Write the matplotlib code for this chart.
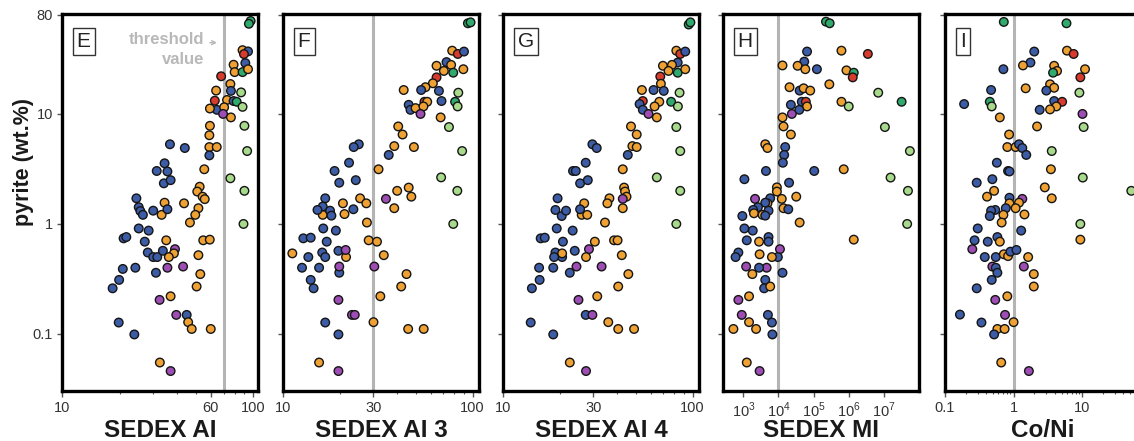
import matplotlib
matplotlib.use("Agg")
import matplotlib.pyplot as plt
from matplotlib.ticker import LogLocator, FixedLocator, NullFormatter, FixedFormatter
import numpy as np

plt.rcParams['font.family'] = ['Liberation Sans', 'DejaVu Sans']
plt.rcParams['mathtext.fontset'] = 'custom'
plt.rcParams['mathtext.rm'] = 'Liberation Sans'

# group colours
COLORS = {
    'b': '#3D5CA6',
    'o': '#EFA233',
    'p': '#9D4DB3',
    'r': '#D63B2E',
    'g': '#2FAA6C',
    'l': '#A8DA8C',
}

# ---- panel E: SEDEX AI ----
E_x = [97, 95, 88, 94, 89.5, 91, 79, 80, 88, 94, 68, 64, 76, 76.5, 86.5, 73, 63, 64.6, 59.4,
       70.5, 69.6, 79, 82, 88, 76.5, 59.4, 90,
       59, 59, 64.5, 59, 93, 76, 90, 89,
       36.7, 43.9, 34.4, 31.3, 35.6, 34.1, 37,
       55.5, 52.5, 51, 54.4, 55.8, 43.5, 51.7, 49.8, 46.7,
       24.5, 25.2, 25.7, 26.5, 30, 33.2, 34.4, 35.6,
       25.2, 28.4, 21, 21.7, 27.1, 28.1, 30, 31.5, 33.7,
       35.1, 54.8, 59.3, 39, 38.5, 36.2, 51.7,
       24.2, 20.8, 19.9, 18.4, 31, 35.6, 43, 52.9, 50.6, 37, 32.4, 39.6, 44.9, 45.7, 47.7, 60,
       19.8, 23.9, 32.5, 37]
E_y = [70, 66, 38, 37, 35, 29, 28, 24, 24, 25.5, 22, 16.3, 18.7, 16.2, 15.7, 13.4, 13.2, 10.9, 11.2,
       11.5, 10, 13.1, 12.9, 11.6, 9.3, 7.8, 7.8,
       6.4, 5.0, 5.0, 4.2, 4.6, 2.6, 2.0, 1.0,
       5.3, 4.9, 3.56, 3.03, 3.0, 2.34, 2.5,
       3.14, 2.18, 1.97, 1.77, 1.68, 1.54, 1.39, 1.21, 1.03,
       1.71, 1.42, 1.31, 1.21, 1.32, 1.21, 1.56, 1.36,
       0.91, 0.87, 0.74, 0.76, 0.69, 0.55, 0.5, 0.5, 0.57,
       0.71, 0.71, 0.72, 0.59, 0.54, 0.50, 0.52,
       0.40, 0.39, 0.31, 0.26, 0.36, 0.40, 0.41, 0.35, 0.27, 0.22, 0.204, 0.149, 0.149, 0.128, 0.111, 0.111,
       0.127, 0.099, 0.055, 0.046]
E_c = ['g', 'g', 'o', 'b', 'r', 'b', 'o', 'o', 'g', 'o', 'r', 'o', 'o', 'b', 'l', 'o', 'r', 'b', 'o',
       'o', 'p', 'b', 'g', 'l', 'o', 'o', 'l',
       'o', 'o', 'o', 'b', 'l', 'l', 'l', 'l',
       'b', 'b', 'b', 'b', 'b', 'b', 'b',
       'o', 'o', 'o', 'o', 'o', 'o', 'o', 'o', 'o',
       'b', 'b', 'b', 'b', 'b', 'o', 'o', 'b',
       'b', 'b', 'b', 'b', 'b', 'b', 'b', 'b', 'b',
       'o', 'o', 'o', 'p', 'o', 'o', 'o',
       'b', 'b', 'b', 'b', 'b', 'p', 'p', 'o', 'o', 'o', 'p', 'p', 'b', 'o', 'o', 'o',
       'b', 'b', 'o', 'p']

# ---- panel F: SEDEX AI 3 ----
F_x = [94.4, 97.5, 78, 83.5, 90, 72.8, 77, 64.5, 70.5, 79, 89.3, 64.5, 61.7, 56.4, 53.5, 43.3, 66.4,
       84, 68.5, 55.7, 57.6, 80.8, 83.3, 46, 47, 50, 55, 53.1, 67.8, 75,
       40.5, 42.7, 38.6, 49, 36.1, 88, 31.9, 68.2, 83, 79,
       40, 46, 47.5, 34.9, 38.6, 27.7, 25.5, 27.5, 20.7, 21.1, 16.2,
       25.1, 23.6, 22.3, 18.7, 19.8, 24.2, 16.7, 16.2, 15.2, 17.7, 18, 23.5,
       16.3, 19, 12.8, 14, 17, 19.6, 16.1, 16.7, 13.6, 12.6, 15.5, 14, 14.5, 19.8, 16.7, 19.6,
       11.2, 21.5, 21.4, 28.3, 31.3, 34, 19.8, 30.3, 44.8, 42, 32.6, 19.6, 23.1, 23.9,
       30, 45.7, 55.2, 15.5, 19.6]
F_y = [66.7, 68, 37.6, 35.1, 36.9, 29.6, 27.9, 27.4, 24.6, 23.7, 25.5, 21.5, 19, 17.5, 16.5, 16.5, 16.2,
       15.6, 13.1, 12.9, 12.9, 12.9, 11.7, 12.1, 10.9, 11.3, 11.7, 10, 9.3, 7.6,
       7.7, 6.5, 5.1, 5.0, 4.24, 4.6, 3.14, 2.65, 2.0, 1.0,
       2.0, 2.14, 1.77, 1.69, 1.39, 1.03, 1.71, 1.54, 1.54, 1.23, 1.21,
       5.3, 5.0, 3.6, 3.03, 2.37, 2.5, 1.71, 1.44, 1.34, 1.32, 1.19, 1.36,
       0.91, 0.87, 0.74, 0.75, 0.69, 0.57, 0.55, 0.50, 0.50, 0.40, 0.40, 0.31, 0.26, 0.36, 0.127, 0.099,
       0.54, 0.50, 0.58, 0.71, 0.69, 0.52, 0.41, 0.41, 0.35, 0.27, 0.22, 0.204, 0.149, 0.149,
       0.128, 0.111, 0.111, 0.055, 0.046]
F_c = ['g', 'g', 'o', 'r', 'b', 'b', 'o', 'o', 'o', 'g', 'o', 'r', 'o', 'o', 'b', 'o', 'b',
       'l', 'b', 'r', 'o', 'g', 'l', 'b', 'b', 'o', 'o', 'p', 'o', 'l',
       'o', 'o', 'o', 'o', 'b', 'l', 'o', 'l', 'l', 'l',
       'o', 'o', 'o', 'p', 'o', 'o', 'o', 'o', 'o', 'o', 'o',
       'b', 'b', 'b', 'b', 'b', 'b', 'b', 'b', 'b', 'b', 'b', 'b',
       'b', 'b', 'b', 'b', 'b', 'b', 'b', 'b', 'b', 'b', 'b', 'b', 'b', 'b', 'b', 'b',
       'o', 'o', 'p', 'o', 'o', 'o', 'p', 'p', 'o', 'o', 'o', 'p', 'p', 'p',
       'o', 'o', 'o', 'o', 'p']

# ---- panel G: SEDEX AI 4 ----
G_x = [95.3, 97.3, 82, 86, 91.4, 83.4, 77.8, 69.7, 74.6, 83.4, 91.4, 67.5, 68, 54, 62.2, 70.4, 85.3,
       54.6, 66.7, 63, 77, 83.6, 52.5, 54.6, 58.5, 64.7, 82,
       47.3, 50.7, 48.1, 50.7, 45.5, 86, 42.8, 64.7, 86, 82,
       29.6, 31.2, 27.3, 23.4, 24.2, 25.5, 28,
       43.5, 44, 44.8, 42.8, 36.4, 35.5, 42.8, 26.8, 26, 27.8, 34.5,
       19.4, 18.9, 20.4, 21.5, 25.5, 19.2, 23.3, 15.8, 16.6, 20.7, 23.9, 18.9, 20.5, 20.5, 18.6,
       30.5, 38.5, 40.2, 28.4, 27.4, 42.3, 24.4, 33.1, 15.5, 18.4, 22.5, 15.6, 14.2,
       45.8, 40.5, 31.4, 25, 27.3, 29.6, 35.9, 40.5, 49.1, 14, 18.4, 22.5, 27.4]
G_y = [65, 68, 37.6, 35.1, 36.9, 29.3, 27.9, 27.4, 24.6, 23.7, 25.5, 21.9, 18.8, 16.5, 16.5, 16.2, 15.6,
       13.1, 12.9, 11.7, 12.9, 11.7, 12.3, 10.9, 10, 9.3, 7.6,
       7.7, 6.5, 5.1, 5.0, 4.24, 4.6, 3.14, 2.65, 2.0, 1.0,
       5.3, 4.9, 3.6, 3.03, 3.03, 2.34, 2.5,
       2.14, 1.97, 1.77, 1.69, 1.71, 1.54, 1.39, 1.54, 1.21, 1.21, 1.03,
       1.71, 1.34, 1.18, 1.32, 1.36, 0.91, 0.87, 0.74, 0.75, 0.69, 0.57, 0.55, 0.50, 0.54, 0.50,
       0.69, 0.71, 0.71, 0.59, 0.50, 0.52, 0.41, 0.41, 0.40, 0.40, 0.36, 0.31, 0.26,
       0.35, 0.27, 0.22, 0.204, 0.149, 0.149, 0.128, 0.111, 0.111, 0.127, 0.099, 0.055, 0.046]
G_c = ['g', 'g', 'o', 'r', 'b', 'b', 'o', 'o', 'o', 'g', 'o', 'r', 'o', 'o', 'b', 'b', 'l',
       'r', 'o', 'o', 'g', 'l', 'b', 'b', 'p', 'o', 'l',
       'o', 'o', 'o', 'o', 'b', 'l', 'o', 'l', 'l', 'l',
       'b', 'b', 'b', 'b', 'b', 'b', 'b',
       'o', 'o', 'o', 'p', 'o', 'o', 'o', 'o', 'o', 'o', 'o',
       'b', 'b', 'b', 'b', 'b', 'b', 'b', 'b', 'b', 'b', 'b', 'b', 'b', 'o', 'b',
       'o', 'o', 'o', 'p', 'o', 'o', 'p', 'p', 'b', 'b', 'b', 'b', 'b',
       'o', 'o', 'o', 'p', 'b', 'p', 'o', 'o', 'o', 'b', 'b', 'o', 'p']

# ---- panel H: SEDEX MI ----
H_x = [2.25e5, 2.86e5, 6.5e4, 6.2e5, 3.5e6, 5.4e4, 1.3e4, 3.5e4, 5.8e4, 1.24e5, 8.6e5, 1.39e6, 1.3e6,
       2.8e5, 2.06e4, 4e4, 5.2e4, 8e4, 6.9e6, 3.2e7, 6.2e5, 1e6, 2.25e4, 4.6e4, 6e4, 6.5e4, 3.9e4,
       2.4e4, 1.3e4, 1.39e4, 2.25e4, 1.07e7, 5.5e7,
       4.2e3, 4.85e3, 1.55e4, 1.45e4, 1.33e4, 4.4e3, 1.04e5, 7.2e5, 1.55e7, 4.85e7, 4.6e7,
       1.07e3, 2e4, 9e3, 9e3, 1.24e4, 3.2e4, 1.39e4, 1.9e4, 2.15e3, 5.8e3, 4.85e3, 4.2e3,
       2.6e3, 1.9e3, 5.2e3, 2e3, 3.5e3, 4.2e3, 4e4, 935,
       1.07e3, 1.85e3, 1.25e3, 2.8e3, 5.2e3, 5.2e3, 1.39e6, 1.1e4, 9.6e3, 6.5e3, 720, 600, 2.9e3,
       1.2e3, 4.6e3, 2.8e3, 1.8e3, 1.3e4, 4.2e3, 3.9e3, 5.8e3, 1.45e3, 720, 900, 5e3, 1.45e3, 6.5e3,
       520, 2.3e3, 6.7e3, 1.25e3, 2.9e3]
H_y = [69, 66.7, 36.9, 37.6, 35.1, 29.9, 27.6, 27.4, 25.5, 25.5, 24.9, 23.7, 21.5,
       18.6, 17.5, 16.3, 17.1, 16.3, 15.6, 12.9, 12.9, 11.7, 12.1, 12.9, 12.9, 11.7, 10.9,
       10, 9.3, 7.7, 6.5, 7.6, 4.6,
       5.3, 4.9, 5.0, 4.24, 3.6, 3.03, 3.03, 3.14, 2.64, 2.0, 1.0,
       2.55, 2.37, 2.15, 1.97, 1.69, 1.77, 1.39, 1.36, 1.69, 1.71, 1.54, 1.56,
       1.42, 1.34, 1.32, 1.25, 1.21, 1.19, 1.03, 1.18,
       0.91, 0.87, 0.71, 0.69, 0.76, 0.69, 0.72, 0.59, 0.50, 0.50, 0.55, 0.50, 0.53,
       0.41, 0.40, 0.40, 0.35, 0.36, 0.31, 0.26, 0.27, 0.22, 0.204, 0.149, 0.149, 0.128, 0.127,
       0.111, 0.111, 0.099, 0.055, 0.046]
H_c = ['g', 'g', 'b', 'o', 'r', 'b', 'o', 'o', 'o', 'b', 'o', 'g', 'r',
       'o', 'o', 'b', 'o', 'o', 'l', 'g', 'o', 'l', 'b', 'b', 'r', 'o', 'b',
       'p', 'o', 'o', 'o', 'l', 'l',
       'o', 'o', 'b', 'b', 'b', 'b', 'b', 'o', 'l', 'l', 'l',
       'b', 'b', 'o', 'o', 'o', 'o', 'o', 'b', 'p', 'b', 'o', 'b',
       'b', 'b', 'b', 'o', 'o', 'b', 'o', 'b',
       'b', 'b', 'b', 'o', 'b', 'b', 'o', 'p', 'b', 'o', 'b', 'b', 'o',
       'p', 'p', 'b', 'o', 'b', 'b', 'b', 'o', 'o', 'p', 'p', 'b', 'o', 'b',
       'o', 'o', 'b', 'o', 'p']

# ---- panel I: Co/Ni ----
I_x = [0.72, 5.9, 2.0, 6.0, 7.5, 1.76, 1.37, 0.71, 3.9, 4.3, 3.76, 11, 9.4, 3.4, 1.5, 3.9, 0.47, 3.0,
       9.1, 0.19, 0.45, 0.48, 3.9, 5.1, 4.2, 3.4, 2.4, 10.1, 0.63, 2.2, 10.5,
       0.86, 0.81, 1.07, 1.2, 1.34, 1.53, 3.6, 0.57, 0.83, 0.87, 3.5, 10.2, 0.29, 0.49, 2.85, 3.6, 52,
       0.52, 0.41, 0.87, 1.34, 0.87, 1.2, 1.07, 1.44, 0.77, 0.54, 0.47, 0.45, 0.71, 0.67, 9.4,
       0.30, 1.29, 0.27, 0.42, 0.58, 0.63, 9.4, 0.25, 0.38, 0.55, 0.72, 0.83, 0.9, 1.1, 1.63,
       0.49, 0.55, 1.41, 0.58, 0.48, 1.97, 1.97, 0.29, 0.81, 0.54, 0.165, 0.75, 0.34, 1.0,
       0.58, 0.74, 0.52, 0.66, 1.67]
I_y = [68.6, 66.7, 36.9, 37.6, 35.1, 29.3, 27.6, 25.5, 27.4, 24.6, 23.7, 25.5, 21.5, 18.6, 17.1, 17.3, 16.5, 16.3,
       15.6, 12.3, 12.9, 11.7, 13.1, 12.9, 11.7, 11.0, 10.9, 10, 9.3, 7.7, 7.6,
       6.5, 5.0, 5.0, 5.3, 4.9, 4.24, 4.6, 3.6, 3.03, 3.0, 3.14, 2.64, 2.37, 2.55, 2.15, 1.71, 2.0,
       2.0, 1.77, 1.73, 1.69, 1.54, 1.56, 1.39, 1.22, 1.39, 1.34, 1.32, 1.18, 1.21, 1.03, 1.0,
       0.91, 0.87, 0.71, 0.69, 0.76, 0.69, 0.72, 0.59, 0.50, 0.50, 0.53, 0.51, 0.56, 0.58, 0.50,
       0.41, 0.40, 0.41, 0.36, 0.31, 0.35, 0.27, 0.26, 0.22, 0.204, 0.15, 0.149, 0.127, 0.128,
       0.111, 0.111, 0.099, 0.055, 0.046]
I_c = ['g', 'g', 'b', 'o', 'r', 'b', 'o', 'b', 'o', 'o', 'g', 'o', 'r', 'o', 'o', 'o', 'b', 'b',
       'l', 'b', 'g', 'l', 'b', 'r', 'o', 'o', 'b', 'p', 'o', 'o', 'l',
       'o', 'o', 'o', 'b', 'b', 'b', 'l', 'b', 'b', 'b', 'o', 'l', 'b', 'b', 'o', 'o', 'l',
       'o', 'o', 'b', 'p', 'o', 'o', 'o', 'o', 'b', 'b', 'b', 'b', 'o', 'o', 'l',
       'b', 'b', 'b', 'b', 'b', 'o', 'o', 'p', 'b', 'b', 'o', 'o', 'b', 'b', 'o',
       'p', 'b', 'p', 'b', 'b', 'o', 'o', 'b', 'o', 'p', 'b', 'p', 'b', 'o',
       'o', 'o', 'b', 'o', 'p']

panels = [
    dict(letter='E', label='SEDEX AI', x=E_x, y=E_y, c=E_c, xlim=(10, 106), thr=70,
         ticks=[10, 60, 100], ticklabels=['10', '60', '100']),
    dict(letter='F', label='SEDEX AI 3', x=F_x, y=F_y, c=F_c, xlim=(10, 108), thr=30,
         ticks=[10, 30, 100], ticklabels=['10', '30', '100']),
    dict(letter='G', label='SEDEX AI 4', x=G_x, y=G_y, c=G_c, xlim=(10, 108), thr=None,
         ticks=[10, 30, 100], ticklabels=['10', '30', '100']),
    dict(letter='H', label='SEDEX MI', x=H_x, y=H_y, c=H_c, xlim=(10**2.42, 1e8), thr=1e4,
         ticks=[1e3, 1e4, 1e5, 1e6, 1e7],
         ticklabels=[r'$10^3$', r'$10^4$', r'$10^5$', r'$10^6$', r'$10^7$']),
    dict(letter='I', label='Co/Ni', x=I_x, y=I_y, c=I_c, xlim=(0.1, 72), thr=1,
         ticks=[0.1, 1, 10], ticklabels=['0.1', '1', '10']),
]

W, H = 1134, 441
fig = plt.figure(figsize=(W / 100, H / 100), dpi=100)

lefts = [62, 283, 503, 723, 945]
ax_w = 196
ax_top, ax_bot = 14, 391

for i, (p, lx) in enumerate(zip(panels, lefts)):
    ax = fig.add_axes([lx / W, (H - ax_bot) / H, ax_w / W, (ax_bot - ax_top) / H])
    ax.set_xscale('log')
    ax.set_yscale('log')
    ax.set_xlim(*p['xlim'])
    ax.set_ylim(0.0303, 81)
    ax.set_facecolor('white')

    if p['thr'] is not None:
        ax.axvline(p['thr'], color='#b4b4b4', lw=2.2, zorder=1)

    ax.scatter(p['x'], p['y'], s=38, c=[COLORS[k] for k in p['c']],
               edgecolors='#151515', linewidths=1.0, zorder=3, clip_on=True)

    for s in ax.spines.values():
        s.set_linewidth(2.4)
        s.set_color('black')

    # x ticks
    ax.xaxis.set_major_locator(FixedLocator(p['ticks']))
    ax.xaxis.set_major_formatter(FixedFormatter(p['ticklabels']))
    if p['letter'] == 'H':
        ax.xaxis.set_minor_locator(FixedLocator([]))
    else:
        ax.xaxis.set_minor_locator(LogLocator(base=10, subs=np.arange(2, 10), numticks=20))
    ax.xaxis.set_minor_formatter(NullFormatter())
    ax.tick_params(axis='x', which='major', direction='out', length=4, width=1.0,
                   colors='#555555', labelsize=10.5, labelcolor='#333333', pad=3)
    ax.tick_params(axis='x', which='minor', direction='out', length=2.5, width=0.8,
                   colors='#555555')

    # y ticks
    ax.yaxis.set_major_locator(FixedLocator([0.1, 1, 10, 80]))
    ax.yaxis.set_minor_locator(FixedLocator([]))
    ax.tick_params(axis='y', which='major', direction='out', length=3.5, width=1.0,
                   colors='#555555', labelsize=10.5, labelcolor='#333333', pad=3)
    if i == 0:
        ax.yaxis.set_major_formatter(FixedFormatter(['0.1', '1', '10', '80']))
    else:
        ax.yaxis.set_major_formatter(NullFormatter())

    # axis title below the tick labels
    fig.text((lx + ax_w / 2) / W, 4 / H, p['label'], ha='center', va='baseline',
             fontsize=17.5, fontweight='bold', color='#1a1a1a')

    # panel letter in a box
    ax.text(0.075, 0.952, p['letter'], transform=ax.transAxes, ha='left', va='top',
            fontsize=15, color='#222222',
            bbox=dict(boxstyle='square,pad=0.2', fc='white', ec='#333333', lw=1.0))

    if p['letter'] == 'E':
        ax.text(0.726, 0.952, 'threshold', transform=ax.transAxes, ha='right', va='top',
                fontsize=12, fontweight='bold', color='#b8b8b8')
        ax.text(0.726, 0.9, 'value', transform=ax.transAxes, ha='right', va='top',
                fontsize=12, fontweight='bold', color='#b8b8b8')
        ax.annotate('', xy=(0.805, 0.924), xytext=(0.74, 0.924), xycoords='axes fraction',
                    arrowprops=dict(arrowstyle='->', color='#b8b8b8', lw=1.0,
                                    mutation_scale=7))

fig.text(24 / W, 1 - 162 / H, 'pyrite (wt.%)', rotation=90, ha='center', va='center',
         fontsize=15.5, fontweight='bold', color='#1a1a1a')

fig.savefig('out.png', dpi=100)
